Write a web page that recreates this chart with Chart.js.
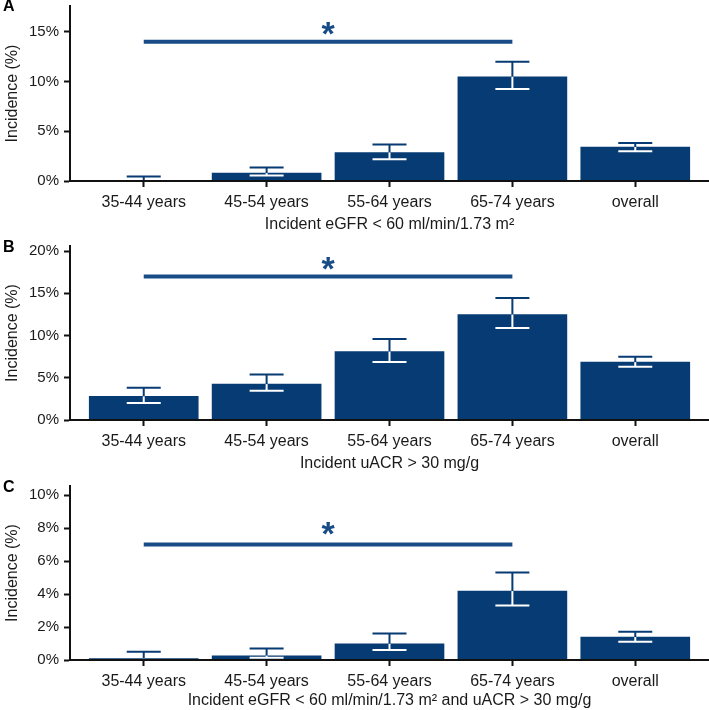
<!DOCTYPE html>
<html>
<head>
<meta charset="utf-8">
<script src="https://cdn.jsdelivr.net/npm/chart.js@4.4.1/dist/chart.umd.min.js"></script>
<style>
  body { margin: 0; background: #fff; }
  .panel { position: absolute; left: 0; width: 709px; }
</style>
</head>
<body>
<div class="panel" style="top:0;height:234px"><canvas id="chartA"></canvas></div>
<div class="panel" style="top:236px;height:237px"><canvas id="chartB"></canvas></div>
<div class="panel" style="top:476px;height:234px"><canvas id="chartC"></canvas></div>
<script>
const categories = ['35-44 years', '45-54 years', '55-64 years', '65-74 years', 'overall'];

// A: incident eGFR < 60
const incidenceA = [0.04, 0.8, 2.87, 10.48, 3.42];
const lowerA = [0, 0.55, 2.2, 9.25, 3.0];
const upperA = [0.45, 1.37, 3.68, 11.99, 3.82];

// B: incident uACR > 30
const incidenceB = [2.8, 4.25, 8.1, 12.48, 6.85];
const lowerB = [2.0, 3.46, 6.88, 10.9, 6.3];
const upperB = [3.81, 5.39, 9.6, 14.45, 7.5];

// C: both
const incidenceC = [0.08, 0.26, 0.98, 4.18, 1.39];
const lowerC = [0, 0.14, 0.6, 3.3, 1.1];
const upperC = [0.5, 0.7, 1.61, 5.31, 1.71];

// significance bracket (35-44 vs 65-74), height in %
const sigLevels = [14, 17, 7];
const starLevels = [15.3, 18.5, 7.95];

const barColor = '#073b73';
const sigColor = '#184c86';
const textColor = '#1a1a1a';
const fontFamily = "'Liberation Sans', Arial, sans-serif";

function makePanel(cfg) {
    const ctxEl = document.getElementById(cfg.id);
    const extras = {
        id: 'extras' + cfg.id,
        afterDatasetsDraw(chart) {
            const { ctx, scales: { x, y } } = chart;
            ctx.save();
            ctx.lineWidth = 2;
            const seg = (x1, y1, x2, y2) => {
                ctx.beginPath(); ctx.moveTo(x1, y1); ctx.lineTo(x2, y2); ctx.stroke();
            };
            cfg.values.forEach((v, i) => {
                const px = x.getPixelForValue(i);
                const pv = y.getPixelForValue(v);
                const ph = y.getPixelForValue(cfg.upper[i]);
                const pl = y.getPixelForValue(cfg.lower[i]);
                // upper half of the error bar, dark
                ctx.strokeStyle = barColor;
                seg(px, pv, px, ph);
                seg(px - 17, ph, px + 17, ph);
                // lower half sits inside the bar, white
                ctx.strokeStyle = '#ffffff';
                seg(px, pl, px, pv);
                seg(px - 17, pl, px + 17, pl);
            });
            // significance line + asterisk
            const sy = y.getPixelForValue(cfg.sig);
            ctx.strokeStyle = sigColor;
            ctx.lineWidth = 4;
            seg(x.getPixelForValue(0), sy, x.getPixelForValue(3), sy);
            ctx.fillStyle = sigColor;
            ctx.font = 'bold 34px ' + fontFamily;
            ctx.textAlign = 'center';
            ctx.textBaseline = 'alphabetic';
            const m = ctx.measureText('*');
            const shift = (m.actualBoundingBoxAscent - m.actualBoundingBoxDescent) / 2;
            ctx.fillText('*', x.getPixelForValue(1.5), y.getPixelForValue(cfg.star) + shift);
            ctx.restore();
        },
        afterDraw(chart) {
            const ctx = chart.ctx;
            ctx.save();
            ctx.fillStyle = '#000';
            ctx.font = 'bold 16px ' + fontFamily;
            ctx.textAlign = 'left';
            ctx.textBaseline = 'middle';
            ctx.fillText(cfg.letter, 3, cfg.letterY);
            ctx.restore();
        }
    };

    new Chart(ctxEl, {
        type: 'bar',
        data: {
            datasets: [{
                data: cfg.values.map((v, i) => ({ x: i, y: v })),
                backgroundColor: barColor,
                borderWidth: 0,
                barThickness: 109
            }]
        },
        options: {
            responsive: true,
            maintainAspectRatio: false,
            animation: false,
            layout: { padding: { top: cfg.padTop, left: 0, right: 0, bottom: 0 } },
            plugins: { legend: { display: false }, tooltip: { enabled: false } },
            scales: {
                x: {
                    type: 'linear',
                    min: -0.6,
                    max: 4.6,
                    offset: false,
                    afterFit: s => { s.height = cfg.xHeight; s.paddingLeft = 0; s.paddingRight = 0; },
                    grid: { offset: false, drawOnChartArea: false, drawTicks: true, tickLength: 6, tickWidth: 2, tickColor: '#111' },
                    border: { display: true, color: '#111', width: 2, z: 1 },
                    ticks: {
                        stepSize: 1,
                        includeBounds: false,
                        autoSkip: false,
                        maxRotation: 0,
                        padding: 6,
                        color: textColor,
                        font: { family: fontFamily, size: 16 },
                        callback: v => categories[v] ?? ''
                    },
                    title: {
                        display: true,
                        text: cfg.xTitle,
                        color: textColor,
                        font: { family: fontFamily, size: 16 },
                        padding: { top: 0, bottom: 0 }
                    }
                },
                y: {
                    min: 0,
                    max: cfg.yMax,
                    afterFit: s => { s.width = 70; s.paddingTop = 0; s.paddingBottom = 0; },
                    grid: { drawOnChartArea: false, drawTicks: true, tickLength: 6, tickWidth: 2, tickColor: '#111' },
                    border: { display: true, color: '#111', width: 2, z: 1 },
                    ticks: {
                        stepSize: cfg.yStep,
                        includeBounds: false,
                        padding: 5,
                        color: textColor,
                        font: { family: fontFamily, size: 15 },
                        callback: v => v + '%'
                    },
                    title: {
                        display: true,
                        text: 'Incidence (%)',
                        color: textColor,
                        font: { family: fontFamily, size: 16 },
                        padding: { top: 3, bottom: 0 }
                    }
                }
            }
        },
        plugins: [extras]
    });
}

makePanel({ id: 'chartA', letter: 'A', letterY: 7, padTop: 6, yMax: 17.6, yStep: 5, xHeight: 53,
    xTitle: 'Incident eGFR < 60 ml/min/1.73 m²',
    values: incidenceA, lower: lowerA, upper: upperA, sig: sigLevels[0], star: starLevels[0] });
makePanel({ id: 'chartB', letter: 'B', letterY: 12, padTop: 10, yMax: 20.6, yStep: 5, xHeight: 53,
    xTitle: 'Incident uACR > 30 mg/g',
    values: incidenceB, lower: lowerB, upper: upperB, sig: sigLevels[1], star: starLevels[1] });
makePanel({ id: 'chartC', letter: 'C', letterY: 12, padTop: 10, yMax: 10.55, yStep: 2, xHeight: 50,
    xTitle: 'Incident eGFR < 60 ml/min/1.73 m² and uACR > 30 mg/g',
    values: incidenceC, lower: lowerC, upper: upperC, sig: sigLevels[2], star: starLevels[2] });
</script>
</body>
</html>
